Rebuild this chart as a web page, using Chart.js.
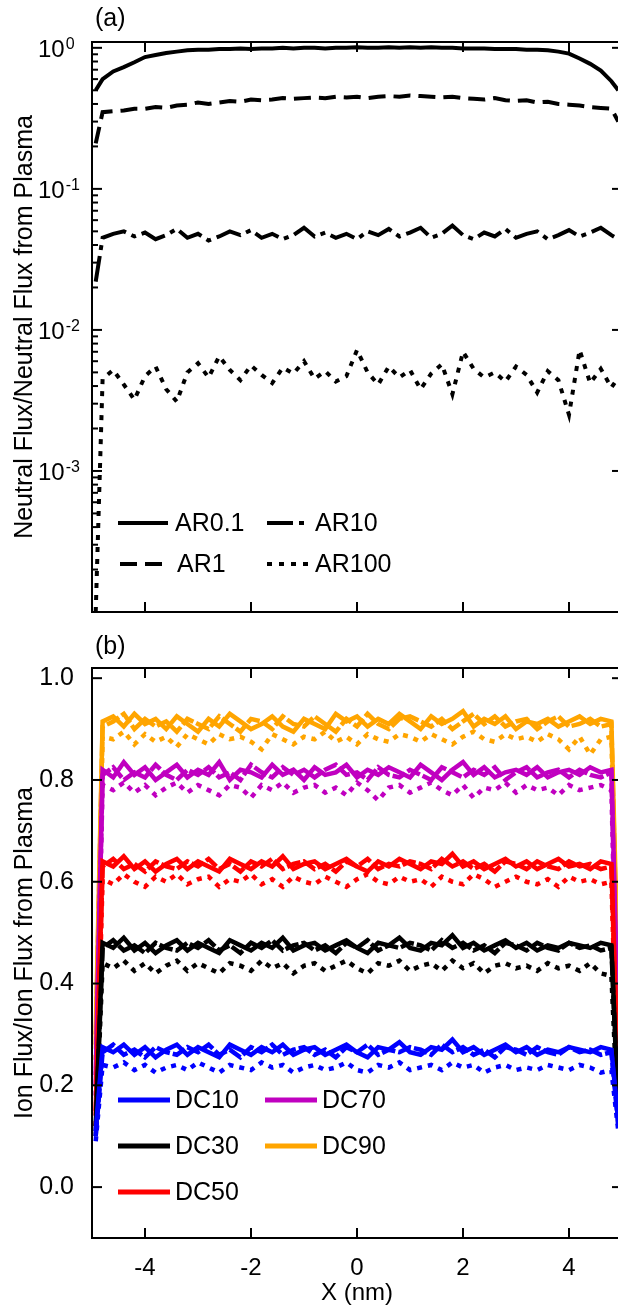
<!DOCTYPE html>
<html>
<head>
<meta charset="utf-8">
<script src="https://cdn.jsdelivr.net/npm/chart.js@4.4.1/dist/chart.umd.min.js"></script>
<style>
  html, body { margin: 0; padding: 0; background: #fff; overflow: hidden; }
  #wrap { position: relative; width: 618px; height: 1312px; overflow: hidden; background: #fff; }
  canvas { position: absolute; left: 0; }
  #fluxNeutral { top: 0; }
  #fluxIon { top: 620px; }
</style>
</head>
<body>
<div id="wrap">
  <canvas id="fluxNeutral" width="640" height="620"></canvas>
  <canvas id="fluxIon" width="640" height="692"></canvas>
</div>
<script>
// ---- positions along the trench (nm) ----
const xs = [-4.93,
  -4.8, -4.6, -4.4, -4.2, -4.0, -3.8, -3.6, -3.4, -3.2, -3.0,
  -2.8, -2.6, -2.4, -2.2, -2.0, -1.8, -1.6, -1.4, -1.2, -1.0,
  -0.8, -0.6, -0.4, -0.2, 0.0, 0.2, 0.4, 0.6, 0.8, 1.0,
  1.2, 1.4, 1.6, 1.8, 2.0, 2.2, 2.4, 2.6, 2.8, 3.0,
  3.2, 3.4, 3.6, 3.8, 4.0, 4.2, 4.4, 4.6, 4.8,
  4.93];

// ---- (a) neutral flux, normalised ----
const arLabels = ['AR0.1', 'AR1', 'AR10', 'AR100'];
const ar01 = [0.50,
  0.60, 0.68, 0.73, 0.79, 0.86, 0.89, 0.92, 0.94, 0.96, 0.97,
  0.97, 0.98, 0.98, 0.99, 0.98, 0.99, 0.99, 1.00, 0.99, 1.00,
  1.00, 0.99, 1.00, 1.00, 1.01, 1.00, 1.00, 1.01, 1.00, 1.01,
  1.00, 1.01, 1.00, 1.00, 0.99, 0.99, 0.99, 0.98, 0.98, 0.98,
  0.97, 0.97, 0.96, 0.94, 0.91, 0.84, 0.77, 0.69, 0.58,
  0.50];
const ar1 = [0.21,
  0.35, 0.355, 0.36, 0.37, 0.37, 0.38, 0.375, 0.39, 0.395, 0.41,
  0.40, 0.41, 0.42, 0.415, 0.43, 0.425, 0.43, 0.44, 0.435, 0.44,
  0.445, 0.44, 0.45, 0.445, 0.45, 0.44, 0.45, 0.455, 0.45, 0.46,
  0.455, 0.45, 0.445, 0.45, 0.44, 0.435, 0.43, 0.44, 0.425, 0.42,
  0.425, 0.41, 0.415, 0.40, 0.395, 0.39, 0.38, 0.375, 0.37,
  0.30];
const ar10 = [0.022,
  0.045, 0.048, 0.050, 0.046, 0.049, 0.044, 0.047, 0.052, 0.045, 0.048,
  0.043, 0.046, 0.050, 0.047, 0.051, 0.045, 0.048, 0.044, 0.047, 0.053,
  0.046, 0.049, 0.045, 0.048, 0.044, 0.050, 0.047, 0.052, 0.046, 0.049,
  0.053, 0.045, 0.048, 0.055, 0.047, 0.044, 0.049, 0.046, 0.052, 0.045,
  0.048, 0.050, 0.044, 0.047, 0.051, 0.046, 0.049, 0.053, 0.047,
  0.044];
const ar100 = [0.0001,
  0.0045, 0.0052, 0.0041, 0.0032, 0.0047, 0.0055, 0.0038, 0.0031, 0.0050, 0.0058,
  0.0046, 0.0065, 0.0052, 0.0044, 0.0056, 0.0048, 0.0042, 0.0054, 0.0049, 0.0060,
  0.0045, 0.0051, 0.0043, 0.0047, 0.0072, 0.0050, 0.0041, 0.0055, 0.0046, 0.0052,
  0.0038, 0.0049, 0.0057, 0.0035, 0.0070, 0.0053, 0.0046, 0.0050, 0.0043, 0.0055,
  0.0048, 0.0036, 0.0051, 0.0044, 0.0025, 0.0072, 0.0042, 0.0053, 0.0039,
  0.0046];

// ---- (b) ion flux, normalised ----
const dcLabels = ['DC10', 'DC30', 'DC50', 'DC70', 'DC90'];
const dc10Solid = [0.11,
  0.275, 0.265, 0.280, 0.260, 0.275, 0.255, 0.270, 0.280, 0.260, 0.275,
  0.265, 0.255, 0.280, 0.270, 0.260, 0.275, 0.265, 0.280, 0.260, 0.270,
  0.275, 0.260, 0.270, 0.280, 0.265, 0.255, 0.275, 0.270, 0.285, 0.265,
  0.260, 0.275, 0.270, 0.290, 0.265, 0.275, 0.260, 0.270, 0.280, 0.265,
  0.275, 0.260, 0.270, 0.265, 0.275, 0.270, 0.265, 0.275, 0.270,
  0.13];
const dc10Dash = [0.10,
  0.265, 0.280, 0.260, 0.270, 0.255, 0.275, 0.265, 0.260, 0.275, 0.265,
  0.280, 0.260, 0.270, 0.255, 0.275, 0.265, 0.280, 0.260, 0.270, 0.275,
  0.260, 0.270, 0.255, 0.275, 0.265, 0.280, 0.260, 0.270, 0.265, 0.275,
  0.270, 0.260, 0.280, 0.265, 0.275, 0.260, 0.270, 0.255, 0.275, 0.270,
  0.260, 0.275, 0.265, 0.260, 0.275, 0.265, 0.270, 0.260, 0.265,
  0.12];
const dc10Dot = [0.09,
  0.240, 0.235, 0.245, 0.230, 0.240, 0.225, 0.235, 0.240, 0.230, 0.245,
  0.235, 0.225, 0.240, 0.235, 0.230, 0.245, 0.235, 0.240, 0.225, 0.235,
  0.240, 0.230, 0.235, 0.245, 0.230, 0.225, 0.240, 0.235, 0.245, 0.230,
  0.235, 0.240, 0.230, 0.245, 0.235, 0.240, 0.225, 0.235, 0.240, 0.230,
  0.235, 0.230, 0.240, 0.235, 0.230, 0.240, 0.235, 0.225, 0.230,
  0.11];
const dc30Solid = [0.12,
  0.480, 0.470, 0.490, 0.465, 0.480, 0.460, 0.475, 0.485, 0.465, 0.480,
  0.470, 0.460, 0.485, 0.475, 0.465, 0.480, 0.470, 0.490, 0.465, 0.475,
  0.480, 0.465, 0.475, 0.485, 0.470, 0.460, 0.480, 0.475, 0.490, 0.470,
  0.465, 0.480, 0.475, 0.495, 0.470, 0.480, 0.465, 0.475, 0.485, 0.470,
  0.480, 0.465, 0.475, 0.470, 0.480, 0.475, 0.470, 0.480, 0.475,
  0.15];
const dc30Dash = [0.11,
  0.470, 0.485, 0.465, 0.475, 0.460, 0.480, 0.470, 0.465, 0.480, 0.470,
  0.485, 0.465, 0.475, 0.460, 0.480, 0.470, 0.485, 0.465, 0.475, 0.480,
  0.465, 0.475, 0.460, 0.480, 0.470, 0.485, 0.465, 0.475, 0.470, 0.480,
  0.475, 0.465, 0.485, 0.470, 0.480, 0.465, 0.475, 0.460, 0.480, 0.475,
  0.465, 0.480, 0.470, 0.465, 0.480, 0.470, 0.475, 0.465, 0.470,
  0.14];
const dc30Dot = [0.10,
  0.440, 0.430, 0.445, 0.425, 0.440, 0.420, 0.435, 0.445, 0.425, 0.440,
  0.430, 0.420, 0.440, 0.435, 0.425, 0.445, 0.430, 0.440, 0.420, 0.435,
  0.440, 0.425, 0.435, 0.445, 0.430, 0.420, 0.440, 0.435, 0.445, 0.425,
  0.435, 0.440, 0.425, 0.445, 0.430, 0.440, 0.420, 0.435, 0.440, 0.430,
  0.435, 0.425, 0.440, 0.430, 0.435, 0.425, 0.440, 0.420, 0.415,
  0.12];
const dc50Solid = [0.15,
  0.640, 0.630, 0.650, 0.625, 0.640, 0.620, 0.635, 0.645, 0.625, 0.640,
  0.630, 0.620, 0.645, 0.635, 0.625, 0.640, 0.630, 0.650, 0.625, 0.635,
  0.640, 0.625, 0.635, 0.645, 0.630, 0.620, 0.640, 0.630, 0.645, 0.635,
  0.625, 0.640, 0.635, 0.655, 0.630, 0.640, 0.625, 0.635, 0.645, 0.630,
  0.640, 0.625, 0.635, 0.645, 0.630, 0.635, 0.625, 0.640, 0.635,
  0.20];
const dc50Dash = [0.14,
  0.630, 0.645, 0.625, 0.635, 0.620, 0.640, 0.630, 0.625, 0.640, 0.630,
  0.645, 0.625, 0.635, 0.620, 0.640, 0.630, 0.645, 0.625, 0.635, 0.640,
  0.625, 0.635, 0.620, 0.640, 0.630, 0.645, 0.625, 0.635, 0.630, 0.640,
  0.635, 0.625, 0.645, 0.630, 0.640, 0.625, 0.635, 0.620, 0.640, 0.635,
  0.625, 0.640, 0.630, 0.625, 0.640, 0.630, 0.635, 0.625, 0.630,
  0.18];
const dc50Dot = [0.12,
  0.605, 0.595, 0.615, 0.600, 0.590, 0.610, 0.600, 0.615, 0.595, 0.605,
  0.610, 0.590, 0.605, 0.600, 0.615, 0.595, 0.605, 0.590, 0.610, 0.600,
  0.595, 0.610, 0.600, 0.590, 0.605, 0.615, 0.600, 0.595, 0.610, 0.600,
  0.605, 0.590, 0.610, 0.600, 0.595, 0.615, 0.605, 0.590, 0.600, 0.610,
  0.600, 0.595, 0.605, 0.590, 0.610, 0.600, 0.605, 0.595, 0.600,
  0.15];
const dc70Solid = [0.22,
  0.820, 0.805, 0.835, 0.810, 0.825, 0.800, 0.815, 0.830, 0.805, 0.820,
  0.810, 0.835, 0.800, 0.820, 0.815, 0.805, 0.830, 0.810, 0.820, 0.800,
  0.825, 0.810, 0.815, 0.830, 0.805, 0.820, 0.810, 0.825, 0.815, 0.805,
  0.830, 0.815, 0.800, 0.820, 0.835, 0.810, 0.825, 0.805, 0.815, 0.820,
  0.810, 0.825, 0.805, 0.815, 0.820, 0.810, 0.825, 0.815, 0.820,
  0.30];
const dc70Dash = [0.20,
  0.810, 0.825, 0.800, 0.815, 0.805, 0.830, 0.810, 0.800, 0.820, 0.810,
  0.825, 0.805, 0.815, 0.800, 0.830, 0.815, 0.805, 0.825, 0.810, 0.820,
  0.805, 0.820, 0.830, 0.810, 0.815, 0.800, 0.825, 0.810, 0.805, 0.820,
  0.810, 0.800, 0.825, 0.815, 0.805, 0.820, 0.810, 0.825, 0.800, 0.815,
  0.825, 0.805, 0.815, 0.820, 0.805, 0.820, 0.810, 0.805, 0.815,
  0.25];
const dc70Dot = [0.18,
  0.790, 0.780, 0.795, 0.775, 0.790, 0.770, 0.785, 0.795, 0.775, 0.790,
  0.780, 0.770, 0.790, 0.785, 0.765, 0.790, 0.780, 0.795, 0.775, 0.785,
  0.790, 0.775, 0.785, 0.770, 0.795, 0.780, 0.760, 0.785, 0.790, 0.775,
  0.785, 0.795, 0.780, 0.770, 0.790, 0.765, 0.785, 0.780, 0.795, 0.775,
  0.790, 0.780, 0.785, 0.770, 0.790, 0.780, 0.785, 0.790, 0.780,
  0.22];
const dc90Solid = [0.30,
  0.915, 0.925, 0.905, 0.930, 0.910, 0.920, 0.900, 0.925, 0.910, 0.895,
  0.920, 0.905, 0.930, 0.915, 0.900, 0.910, 0.925, 0.905, 0.895, 0.920,
  0.910, 0.900, 0.930, 0.915, 0.925, 0.905, 0.920, 0.910, 0.930, 0.915,
  0.900, 0.925, 0.910, 0.920, 0.935, 0.905, 0.920, 0.910, 0.925, 0.900,
  0.915, 0.910, 0.920, 0.905, 0.915, 0.925, 0.910, 0.920, 0.915,
  0.40];
const dc90Dash = [0.28,
  0.905, 0.915, 0.930, 0.900, 0.920, 0.905, 0.915, 0.895, 0.920, 0.910,
  0.900, 0.925, 0.910, 0.895, 0.920, 0.915, 0.900, 0.925, 0.910, 0.905,
  0.925, 0.910, 0.895, 0.920, 0.905, 0.930, 0.910, 0.900, 0.920, 0.925,
  0.915, 0.905, 0.920, 0.900, 0.915, 0.930, 0.910, 0.925, 0.905, 0.915,
  0.920, 0.900, 0.915, 0.925, 0.905, 0.910, 0.920, 0.905, 0.910,
  0.35];
const dc90Dot = [0.25,
  0.885, 0.880, 0.895, 0.870, 0.890, 0.875, 0.885, 0.865, 0.890, 0.880,
  0.870, 0.890, 0.880, 0.885, 0.875, 0.860, 0.890, 0.880, 0.870, 0.885,
  0.880, 0.895, 0.875, 0.885, 0.870, 0.890, 0.880, 0.875, 0.890, 0.885,
  0.875, 0.890, 0.880, 0.870, 0.885, 0.895, 0.880, 0.875, 0.890, 0.880,
  0.885, 0.875, 0.890, 0.880, 0.860, 0.885, 0.850, 0.880, 0.885,
  0.30];

// ---- axis ticks ----
const xTicks = [-4, -2, 0, 2, 4];
const logTicks = [1, 0.1, 0.01, 0.001];
const logTickExp = ['0', '-1', '-2', '-3'];
const ionTicks = [0.0, 0.2, 0.4, 0.6, 0.8, 1.0];

// ---------------------------------------------------------------
const FONT = "'Liberation Sans', Arial, Helvetica, sans-serif";
Chart.defaults.font.family = FONT;
Chart.defaults.color = '#000';

const pts = arr => xs.map((x, i) => ({ x, y: arr[i] }));

// Log-axis minor positions (2..9 x each decade)
const logMinor = [];
[-4, -3, -2, -1].forEach(k => { for (let m = 2; m <= 9; m++) logMinor.push(m * Math.pow(10, k)); });

// Boxed frame with inward tick marks (minor ticks on the left side only)
const frame = {
  id: 'frame',
  afterDatasetsDraw(chart, args, o) {
    const { ctx, chartArea: a } = chart;
    const sx = chart.scales.x, sy = chart.scales.y;
    ctx.save();
    ctx.strokeStyle = '#000';
    ctx.lineWidth = 2;
    ctx.setLineDash([]);
    ctx.lineCap = 'butt';
    const seg = (x1, y1, x2, y2) => { ctx.beginPath(); ctx.moveTo(x1, y1); ctx.lineTo(x2, y2); ctx.stroke(); };
    ctx.strokeRect(a.left, a.top, a.right - a.left, a.bottom - a.top);
    o.xMajor.forEach(v => {
      const p = sx.getPixelForValue(v);
      seg(p, a.bottom, p, a.bottom - o.major);
      seg(p, a.top, p, a.top + o.major);
    });
    o.yMajor.forEach(v => {
      const p = sy.getPixelForValue(v);
      seg(a.left, p, a.left + o.major, p);
      seg(a.right, p, a.right - o.major, p);
    });
    (o.yMinor || []).forEach(v => {
      const p = sy.getPixelForValue(v);
      if (p < a.top || p > a.bottom) return;
      seg(a.left, p, a.left + o.minor, p);
    });
    ctx.restore();
  }
};

// Legend drawn as line samples with labels
const keyBox = {
  id: 'keyBox',
  afterDraw(chart, args, o) {
    const { ctx } = chart;
    ctx.save();
    o.items.forEach(it => {
      ctx.strokeStyle = it.color;
      ctx.lineWidth = it.width;
      ctx.lineCap = 'butt';
      ctx.setLineDash(it.dash);
      ctx.beginPath();
      ctx.moveTo(it.x1, it.y);
      ctx.lineTo(it.x2, it.y);
      ctx.stroke();
      ctx.setLineDash([]);
      ctx.fillStyle = '#000';
      ctx.font = o.font;
      ctx.textAlign = 'left';
      ctx.textBaseline = 'middle';
      ctx.fillText(it.label, it.tx, it.y + 1);
    });
    ctx.restore();
  }
};

// Panel tag such as (a)
const panelTag = {
  id: 'panelTag',
  afterDraw(chart, args, o) {
    const { ctx } = chart;
    ctx.save();
    ctx.fillStyle = '#000';
    ctx.font = o.font;
    ctx.textAlign = 'left';
    ctx.textBaseline = 'middle';
    ctx.fillText(o.text, o.x, o.y);
    ctx.restore();
  }
};

// Power-of-ten labels with raised exponents for the log axis
const powerTicks = {
  id: 'powerTicks',
  afterDraw(chart, args, o) {
    const { ctx } = chart;
    const sy = chart.scales.y;
    ctx.save();
    ctx.fillStyle = '#000';
    ctx.textAlign = 'left';
    ctx.textBaseline = 'alphabetic';
    o.values.forEach((v, i) => {
      const p = sy.getPixelForValue(v);
      ctx.font = o.font;
      ctx.fillText('10', o.x, p + o.drop);
      const w = ctx.measureText('10').width;
      ctx.font = o.supFont;
      ctx.fillText(o.exps[i], o.x + w + 1, p + o.supDrop);
    });
    ctx.restore();
  }
};

const bare = { grid: { display: false }, border: { display: false } };

// ---------------- panel (a) ----------------
const neutralStyles = [
  { dash: [] },
  { dash: [17, 8] },
  { dash: [26, 6, 5, 6] },
  { dash: [5, 7] }
];
const neutralSeries = [ar01, ar1, ar10, ar100];

new Chart(document.getElementById('fluxNeutral'), {
  type: 'line',
  data: {
    datasets: neutralSeries.map((s, i) => ({
      label: arLabels[i],
      data: pts(s),
      borderColor: '#000',
      borderWidth: 4,
      borderDash: neutralStyles[i].dash,
      pointRadius: 0,
      tension: 0,
      fill: false
    }))
  },
  options: {
    responsive: false,
    animation: false,
    events: [],
    layout: { padding: { top: 42, right: 18, left: 0, bottom: 0 } },
    plugins: {
      legend: { display: false },
      tooltip: { enabled: false },
      frame: { xMajor: xTicks, yMajor: logTicks, yMinor: logMinor, major: 10, minor: 6 },
      keyBox: {
        font: `25px ${FONT}`,
        items: [
          { label: arLabels[0], color: '#000', width: 4, dash: neutralStyles[0].dash, x1: 118, x2: 168, tx: 175, y: 523 },
          { label: arLabels[2], color: '#000', width: 4, dash: neutralStyles[2].dash, x1: 267, x2: 310, tx: 315, y: 523 },
          { label: arLabels[1], color: '#000', width: 4, dash: neutralStyles[1].dash, x1: 120, x2: 168, tx: 177, y: 564 },
          { label: arLabels[3], color: '#000', width: 4, dash: neutralStyles[3].dash, x1: 267, x2: 310, tx: 315, y: 564 }
        ]
      },
      panelTag: { text: '(a)', x: 95, y: 19, font: `25px ${FONT}` },
      powerTicks: { values: logTicks, exps: logTickExp, x: 38, drop: 9, supDrop: 1, font: `24px ${FONT}`, supFont: `16px ${FONT}` }
    },
    scales: {
      x: {
        type: 'linear', min: -5, max: 5, ...bare,
        ticks: { display: false },
        afterFit(s) { s.height = 8; }
      },
      y: {
        type: 'logarithmic', min: 1e-4, max: 1.1, ...bare,
        ticks: { display: false },
        title: { display: true, text: 'Neutral Flux/Neutral Flux from Plasma', font: { size: 25 }, padding: { top: 10, bottom: 0 } },
        afterFit(s) { s.width = 92; }
      }
    }
  },
  plugins: [frame, keyBox, panelTag, powerTicks]
});

// ---------------- panel (b) ----------------
const dcColors = ['#0000ff', '#000000', '#ff0000', '#c000c0', '#ffa500'];
const ionGroups = [
  [dc10Solid, dc10Dash, dc10Dot],
  [dc30Solid, dc30Dash, dc30Dot],
  [dc50Solid, dc50Dash, dc50Dot],
  [dc70Solid, dc70Dash, dc70Dot],
  [dc90Solid, dc90Dash, dc90Dot]
];
const ionDash = [[], [14, 3], [5, 6]];
const ionDatasets = [];
ionGroups.forEach((grp, g) => {
  grp.forEach((s, k) => {
    ionDatasets.push({
      label: dcLabels[g],
      data: pts(s),
      borderColor: dcColors[g],
      borderWidth: k === 2 ? 4.5 : 4.5,
      borderDash: ionDash[k],
      pointRadius: 0,
      tension: 0,
      fill: false
    });
  });
});

const OFF_B = 620;
const ionKeyPos = [
  { x1: 118, x2: 170, tx: 175, y: 1100 - OFF_B },
  { x1: 118, x2: 170, tx: 175, y: 1146 - OFF_B },
  { x1: 118, x2: 170, tx: 175, y: 1192 - OFF_B },
  { x1: 265, x2: 317, tx: 322, y: 1100 - OFF_B },
  { x1: 265, x2: 317, tx: 322, y: 1146 - OFF_B }
];

new Chart(document.getElementById('fluxIon'), {
  type: 'line',
  data: { datasets: ionDatasets },
  options: {
    responsive: false,
    animation: false,
    events: [],
    layout: { padding: { top: 48, right: 18, left: 0, bottom: 0 } },
    plugins: {
      legend: { display: false },
      tooltip: { enabled: false },
      frame: { xMajor: xTicks, yMajor: ionTicks, major: 10, minor: 6 },
      keyBox: {
        font: `25px ${FONT}`,
        items: dcLabels.map((lab, i) => ({ label: lab, color: dcColors[i], width: 5, dash: [], ...ionKeyPos[i] }))
      },
      panelTag: { text: '(b)', x: 95, y: 647 - OFF_B, font: `25px ${FONT}` }
    },
    scales: {
      x: {
        type: 'linear', min: -5, max: 5, ...bare,
        afterBuildTicks(s) { s.ticks = xTicks.map(v => ({ value: v })); },
        ticks: { font: { size: 24 }, padding: 8, maxRotation: 0, callback: v => String(v) },
        title: { display: true, text: 'X (nm)', font: { size: 24 }, padding: { top: 0, bottom: 4 } },
        afterFit(s) { s.height = 74; }
      },
      y: {
        type: 'linear', min: -0.1, max: 1.02, ...bare,
        afterBuildTicks(s) { s.ticks = ionTicks.map(v => ({ value: v })); },
        ticks: { font: { size: 25 }, padding: 10, callback: v => Number(v).toFixed(1) },
        title: { display: true, text: 'Ion Flux/Ion Flux from Plasma', font: { size: 25 }, padding: { top: 10, bottom: 0 } },
        afterFit(s) { s.width = 92; }
      }
    }
  },
  plugins: [frame, keyBox, panelTag]
});
</script>
</body>
</html>
